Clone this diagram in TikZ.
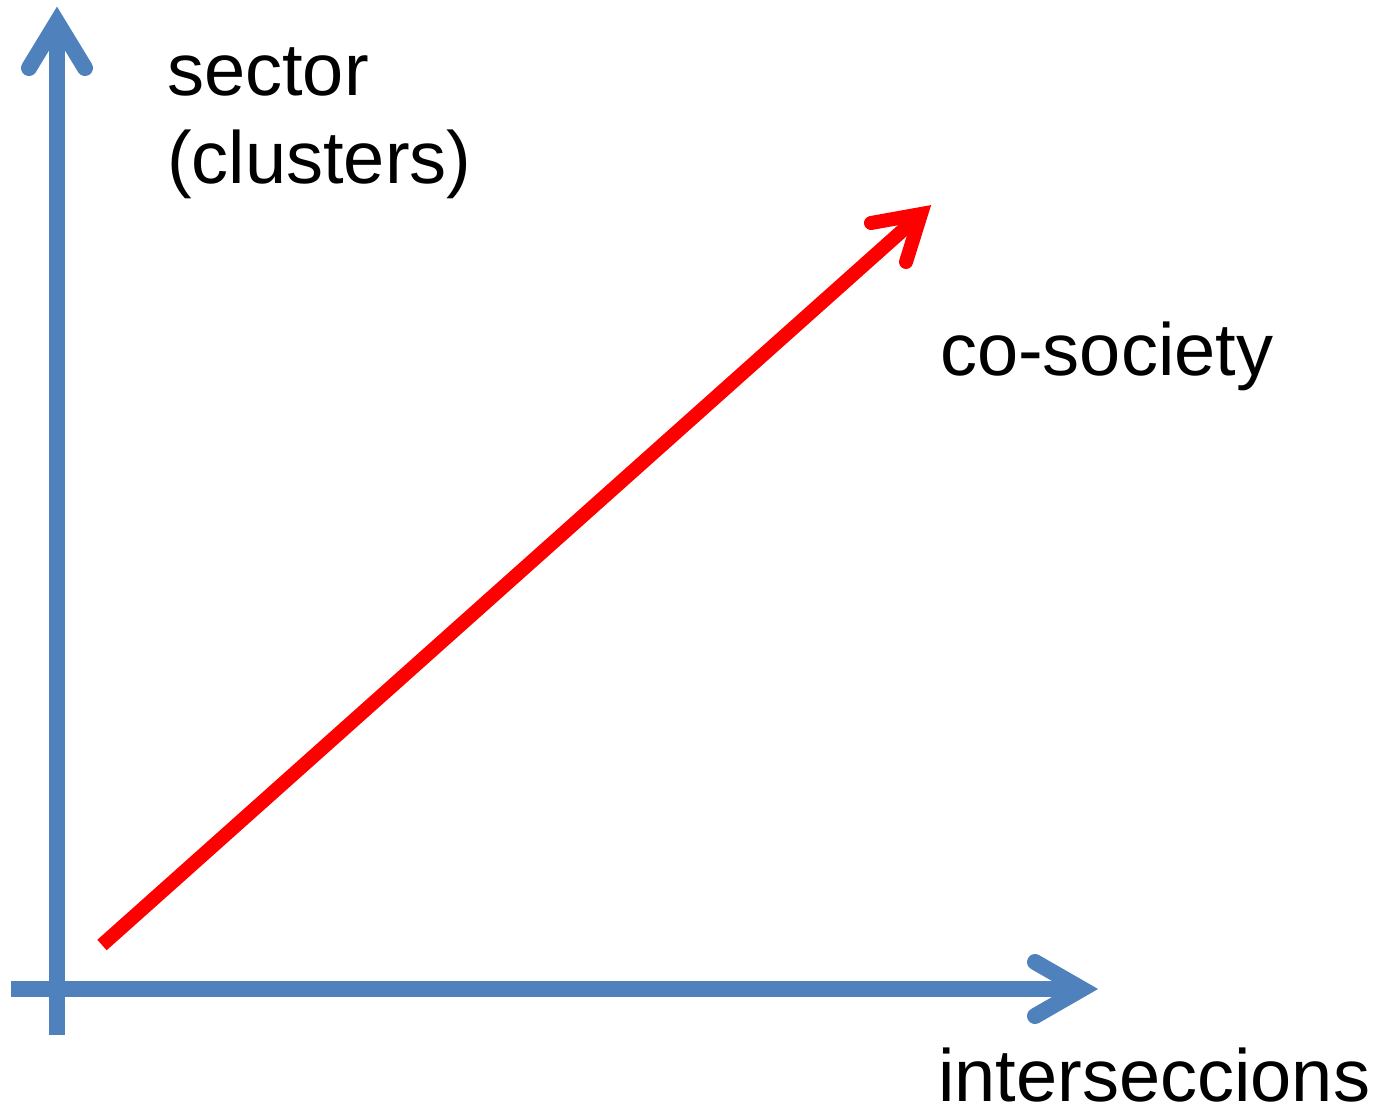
\documentclass[tikz,border=0pt]{standalone}
\usepackage{fontspec}
\setmainfont{Liberation Sans}
\definecolor{axisblue}{HTML}{4F81BD}
\definecolor{vecred}{HTML}{FF0000}
\begin{document}
\begin{tikzpicture}[x=1pt,y=-1pt,
  axisline/.style={draw=axisblue,line width=16pt},
  axishead/.style={draw=axisblue,line width=16pt,line cap=round,line join=miter},
  vecline/.style={draw=vecred,line width=14pt},
  vechead/.style={draw=vecred,line width=14pt,line cap=round,line join=miter},
  lbl/.style={inner sep=0pt,anchor=base west,font=\fontsize{74}{88}\selectfont,align=left}]
\useasboundingbox (0,0) rectangle (1387,1112);
% axes
\coordinate (ybot) at (57,1035);
\coordinate (ytop) at (57,22);
\coordinate (yl) at (29,68);
\coordinate (yr) at (85,68);
\coordinate (xleft) at (11,989);
\coordinate (xright) at (1082,989);
\coordinate (xu) at (1035,962);
\coordinate (xd) at (1035,1016);
\draw[axisline] (ybot) -- (ytop);
\draw[axishead] (yl) -- (ytop) -- (yr);
\draw[axisline] (xleft) -- (xright);
\draw[axishead] (xu) -- (xright) -- (xd);
% vector
\coordinate (vstart) at (102,945);
\coordinate (vtip) at (921,214);
\coordinate (vl) at (871,223);
\coordinate (vd) at (906,262);
\draw[vecline] (vstart) -- (vtip);
\draw[vechead] (vl) -- (vtip) -- (vd);
% labels
\node[lbl] (ylabel) at (167,183) {sector\\(clusters)};
\node[lbl] (vlabel) at (940,375) {co-society};
\node[lbl,text depth=0pt] (xlabel) at (938,1101) {interseccions};
\end{tikzpicture}
\end{document}
